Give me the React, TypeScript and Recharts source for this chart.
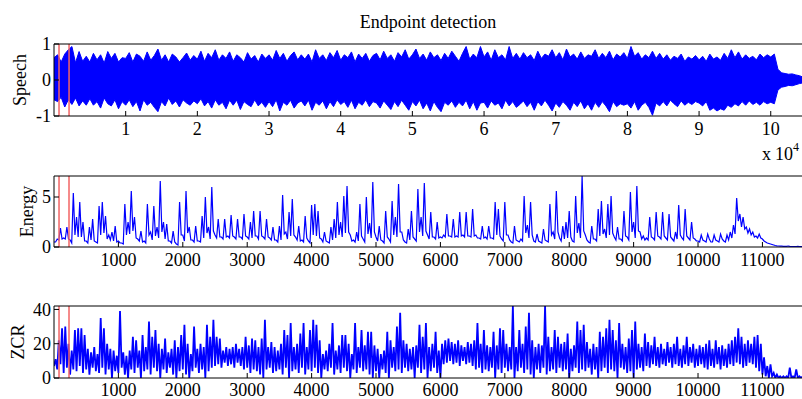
import React from "react";
import { ComposedChart, Area, Line, XAxis, YAxis, ReferenceLine } from "recharts";

const W = 812;
const H = 399;
const LEFT = 54;
const RIGHT = 803;
const BLUE = "#0000ff";
const RED = "#f26464";
const FONT = "'Liberation Serif', 'Times New Roman', serif";

// speech envelope, one pair every 500 samples
const SPEECH_STEP = 500;
const speechUpper = [
  0.62, 0.7, 0.5, 0.72, 0.84, 0.93, 0.48, 0.79, 0.52, 0.66,
  0.5, 0.74, 0.56, 0.7, 0.47, 0.79, 0.6, 0.74, 0.5, 0.62,
  0.6, 0.76, 0.5, 0.72, 0.66, 0.52, 0.78, 0.55, 0.68, 0.86,
  0.55, 0.7, 0.5, 0.72, 0.64, 0.5, 0.62, 0.75, 0.55, 0.68,
  0.58, 0.8, 0.52, 0.74, 0.62, 0.84, 0.55, 0.7, 0.6, 0.78,
  0.52, 0.7, 0.62, 0.5, 0.76, 0.58, 0.68, 0.5, 0.72, 0.6,
  0.7, 0.55, 0.82, 0.6, 0.74, 0.52, 0.68, 0.78, 0.56, 0.7,
  0.58, 0.72, 0.5, 0.84, 0.6, 0.7, 0.54, 0.76, 0.62, 0.82,
  0.55, 0.7, 0.62, 0.78, 0.5, 0.72, 0.6, 0.74, 0.52, 0.68,
  0.74, 0.56, 0.8, 0.6, 0.7, 0.52, 0.76, 0.64, 0.84, 0.58,
  0.7, 0.86, 0.6, 0.72, 0.55, 0.78, 0.62, 0.7, 0.54, 0.74,
  0.6, 0.8, 0.66, 0.52, 0.74, 0.93, 0.58, 0.72, 0.62, 0.93,
  0.64, 0.78, 0.55, 0.84, 0.62, 0.7, 0.56, 0.93, 0.6, 0.74,
  0.58, 0.76, 0.62, 0.7, 0.54, 0.8, 0.6, 0.72, 0.66, 0.84,
  0.62, 0.76, 0.56, 0.86, 0.64, 0.72, 0.58, 0.78, 0.6, 0.7,
  0.66, 0.84, 0.6, 0.74, 0.62, 0.8, 0.56, 0.72, 0.64, 0.76,
  0.6, 0.93, 0.66, 0.76, 0.58, 0.7, 0.62, 0.8, 0.6, 0.74,
  0.58, 0.7, 0.55, 0.66, 0.6, 0.72, 0.52, 0.64, 0.58, 0.68,
  0.56, 0.66, 0.52, 0.72, 0.58, 0.64, 0.55, 0.74, 0.6, 0.84,
  0.62, 0.78, 0.58, 0.7, 0.6, 0.66, 0.56, 0.72, 0.62, 0.7,
  0.64, 0.72, 0.3, 0.2, 0.18, 0.16, 0.17, 0.14, 0.12, 0.08,
];
const speechLower = [
  -0.55, -0.6, -0.48, -0.75, -0.55, -0.68, -0.5, -0.72, -0.58, -0.7,
  -0.52, -0.7, -0.6, -0.78, -0.5, -0.66, -0.72, -0.55, -0.8, -0.6,
  -0.7, -0.55, -0.74, -0.6, -0.86, -0.55, -0.7, -0.62, -0.76, -0.88,
  -0.6, -0.72, -0.5, -0.68, -0.58, -0.75, -0.55, -0.64, -0.7, -0.58,
  -0.66, -0.52, -0.72, -0.6, -0.78, -0.55, -0.7, -0.62, -0.8, -0.56,
  -0.7, -0.56, -0.82, -0.6, -0.68, -0.74, -0.55, -0.72, -0.62, -0.76,
  -0.6, -0.74, -0.55, -0.86, -0.62, -0.7, -0.56, -0.78, -0.64, -0.58,
  -0.72, -0.56, -0.84, -0.62, -0.7, -0.58, -0.8, -0.6, -0.74, -0.55,
  -0.68, -0.6, -0.76, -0.56, -0.8, -0.62, -0.7, -0.55, -0.74, -0.6,
  -0.64, -0.78, -0.58, -0.7, -0.82, -0.6, -0.74, -0.56, -0.7, -0.84,
  -0.6, -0.72, -0.56, -0.8, -0.64, -0.86, -0.6, -0.76, -0.88, -0.62,
  -0.7, -0.58, -0.76, -0.62, -0.72, -0.56, -0.8, -0.6, -0.84, -0.64,
  -0.62, -0.78, -0.58, -0.7, -0.64, -0.8, -0.56, -0.72, -0.6, -0.76,
  -0.68, -0.58, -0.74, -0.62, -0.84, -0.6, -0.72, -0.56, -0.7, -0.86,
  -0.64, -0.76, -0.6, -0.7, -0.84, -0.62, -0.74, -0.58, -0.8, -0.66,
  -0.84, -0.62, -0.76, -0.6, -0.72, -0.88, -0.6, -0.74, -0.66, -0.7,
  -0.66, -0.78, -0.6, -0.84, -0.7, -0.62, -0.76, -0.98, -0.64, -0.72,
  -0.6, -0.72, -0.56, -0.66, -0.74, -0.58, -0.7, -0.62, -0.68, -0.6,
  -0.64, -0.72, -0.6, -0.84, -0.78, -0.86, -0.8, -0.84, -0.7, -0.76,
  -0.66, -0.72, -0.6, -0.7, -0.58, -0.68, -0.62, -0.7, -0.6, -0.66,
  -0.62, -0.66, -0.28, -0.2, -0.18, -0.15, -0.16, -0.13, -0.1, -0.08,
];

// short-time energy: a value every 50 frames, plus the level half way between them
const FRAME_STEP = 50;
const energy = [
  0.5, 0.8, 1.9, 0.9, 2.0, 0.7, 5.4, 3.0, 4.5, 2.5,
  0.6, 2.0, 2.8, 0.5, 4.1, 4.5, 3.1, 1.2, 1.5, 2.1,
  0.6, 0.4, 4.3, 2.5, 5.6, 3.0, 0.8, 1.6, 0.6, 4.3,
  1.5, 4.1, 2.0, 6.6, 2.5, 2.3, 0.6, 1.6, 0.3, 4.5,
  1.2, 5.6, 2.0, 0.7, 2.1, 0.6, 3.1, 5.0, 2.0, 6.0,
  1.2, 2.8, 1.0, 2.8, 1.1, 3.2, 1.0, 2.8, 1.0, 3.3,
  1.0, 2.5, 3.6, 1.1, 3.6, 1.0, 2.8, 0.9, 2.0, 0.7,
  2.1, 5.2, 1.5, 3.5, 4.8, 1.0, 2.1, 0.7, 3.1, 0.6,
  4.2, 4.3, 3.6, 0.8, 1.5, 0.5, 2.0, 2.8, 4.5, 2.5,
  5.1, 6.1, 1.2, 0.7, 1.5, 4.3, 0.8, 5.0, 2.4, 6.5,
  1.0, 2.1, 0.6, 3.6, 0.8, 4.6, 3.0, 6.3, 1.5, 0.5,
  1.8, 3.6, 0.8, 5.8, 3.0, 6.4, 1.2, 3.5, 1.0, 2.5,
  1.0, 1.2, 3.3, 1.1, 2.8, 1.1, 3.5, 1.2, 3.5, 1.1,
  3.8, 1.2, 0.9, 2.1, 1.0, 2.1, 0.9, 4.5, 3.8, 0.8,
  4.5, 1.2, 0.5, 2.1, 0.6, 0.8, 5.1, 2.2, 4.5, 0.6,
  1.3, 0.5, 1.8, 0.6, 4.3, 1.5, 5.6, 0.9, 2.1, 2.5,
  3.6, 0.6, 5.1, 2.4, 7.1, 1.2, 0.5, 2.1, 0.8, 3.8,
  4.6, 1.8, 4.3, 5.1, 1.0, 2.0, 0.8, 3.6, 1.0, 5.5,
  2.5, 6.1, 1.5, 1.1, 0.9, 3.0, 0.9, 3.5, 1.0, 3.5,
  0.9, 3.3, 0.8, 1.5, 4.2, 0.9, 3.8, 0.9, 2.5, 0.8,
  0.6, 1.2, 0.6, 1.3, 0.5, 1.2, 0.6, 1.3, 0.6, 1.2,
  1.5, 2.2, 4.9, 3.3, 3.0, 2.0, 1.8, 1.5, 1.1, 1.3,
  0.8, 0.5, 0.35, 0.25, 0.15, 0.1, 0.08, 0.06, 0.1, 0.05,
  0.05, 0.06, 0.05,
];
const energyTroughs = [
  0.5, 0.7, 0.8, 0.8, 0.8, 0.4, 1.2, 1.0, 1.0, 0.6,
  0.4, 0.7, 0.6, 0.4, 1.2, 1.4, 0.8, 0.7, 0.6, 0.5,
  0.4, 0.3, 1.2, 1.3, 1.6, 0.9, 0.6, 0.5, 0.4, 1.2,
  0.7, 1.1, 0.9, 1.5, 0.8, 0.6, 0.4, 0.5, 0.2, 1.2,
  0.6, 1.4, 0.7, 0.5, 0.6, 0.5, 0.9, 1.4, 0.8, 1.6,
  0.9, 1.0, 0.8, 1.0, 0.9, 1.1, 0.8, 1.0, 0.8, 1.1,
  0.8, 0.9, 1.1, 0.8, 1.1, 0.8, 1.0, 0.7, 0.7, 0.5,
  0.7, 1.3, 0.8, 1.1, 1.2, 0.7, 0.6, 0.5, 0.9, 0.4,
  1.2, 1.1, 0.9, 0.5, 0.6, 0.4, 0.7, 0.9, 1.2, 1.0,
  1.4, 1.5, 0.6, 0.5, 0.6, 1.1, 0.5, 1.3, 0.9, 1.5,
  0.6, 0.7, 0.4, 1.0, 0.5, 1.2, 1.0, 1.5, 0.7, 0.4,
  0.7, 1.0, 0.6, 1.5, 1.1, 1.6, 0.8, 1.0, 0.8, 0.9,
  0.9, 1.0, 1.1, 1.0, 1.0, 1.0, 1.1, 1.0, 1.1, 1.0,
  1.1, 0.9, 0.8, 0.9, 0.8, 0.9, 0.8, 1.2, 1.1, 0.6,
  1.2, 0.7, 0.4, 0.7, 0.5, 0.6, 1.4, 0.9, 1.2, 0.5,
  0.6, 0.4, 0.7, 0.5, 1.2, 0.8, 1.5, 0.6, 0.8, 0.9,
  1.0, 0.5, 1.4, 0.9, 1.6, 0.7, 0.4, 0.8, 0.6, 1.1,
  1.3, 0.9, 1.2, 1.4, 0.7, 0.8, 0.6, 1.1, 0.7, 1.5,
  0.9, 1.6, 0.8, 0.7, 0.7, 1.0, 0.7, 1.1, 0.8, 1.1,
  0.7, 1.0, 0.6, 0.8, 1.2, 0.7, 1.1, 0.7, 0.9, 0.6,
  0.5, 0.7, 0.5, 0.8, 0.5, 0.7, 0.5, 0.8, 0.5, 0.7,
  0.9, 1.3, 2.6, 2.0, 1.8, 1.4, 1.2, 1.0, 0.9, 0.9,
  0.6, 0.4, 0.3, 0.2, 0.12, 0.09, 0.07, 0.07, 0.06, 0.05,
  0.05, 0.05, 0.05,
];

// zero crossing rate: low and high reading in every 50-frame slot
const zcrHigh = [
  11, 22, 29, 30, 20, 16, 28, 29, 29, 25,
  17, 15, 18, 14, 35, 29, 20, 17, 16, 13,
  39, 15, 13, 16, 24, 22, 16, 25, 18, 33,
  24, 28, 20, 17, 23, 15, 17, 22, 18, 25,
  31, 20, 14, 30, 17, 20, 18, 31, 24, 34,
  24, 23, 16, 18, 17, 18, 20, 17, 18, 24,
  19, 23, 22, 18, 23, 34, 18, 21, 18, 16,
  20, 28, 25, 32, 18, 20, 26, 32, 18, 28,
  34, 31, 22, 14, 16, 20, 32, 16, 19, 25,
  25, 20, 14, 32, 18, 28, 19, 27, 27, 19,
  17, 14, 16, 27, 22, 18, 30, 38, 22, 20,
  17, 18, 19, 31, 24, 32, 18, 20, 27, 16,
  20, 22, 23, 21, 20, 22, 19, 18, 21, 20,
  22, 32, 20, 28, 19, 18, 27, 19, 29, 28,
  20, 18, 42, 18, 28, 20, 30, 38, 22, 18,
  20, 19, 42, 24, 18, 28, 24, 20, 21, 26,
  17, 19, 33, 28, 31, 21, 17, 20, 18, 27,
  24, 29, 34, 28, 22, 32, 20, 18, 23, 28,
  33, 20, 18, 26, 21, 19, 24, 18, 20, 17,
  21, 18, 20, 24, 17, 19, 24, 18, 20, 17,
  19, 18, 20, 22, 17, 22, 18, 19, 17, 20,
  22, 24, 29, 24, 20, 22, 20, 24, 25, 20,
  12, 7, 8, 3, 2, 1, 1, 1, 6, 1,
  5, 1, 1,
];
const zcrLow = [
  7, 5, 8, 3, 6, 2, 5, 4, 7, 3,
  5, 2, 6, 4, 3, 6, 2, 5, 0, 4,
  3, 6, 2, 0, 5, 3, 6, 0, 4, 5,
  2, 6, 4, 0, 5, 3, 6, 2, 0, 4,
  5, 2, 0, 4, 6, 3, 5, 0, 4, 6,
  7, 8, 6, 9, 7, 8, 6, 9, 7, 5,
  6, 3, 5, 4, 2, 0, 5, 6, 3, 4,
  5, 2, 6, 0, 4, 5, 3, 6, 2, 5,
  4, 6, 3, 0, 5, 4, 6, 2, 5, 3,
  6, 4, 0, 5, 3, 6, 4, 5, 2, 0,
  4, 0, 5, 3, 0, 6, 4, 5, 3, 6,
  4, 5, 0, 6, 3, 5, 0, 4, 6, 3,
  0, 8, 9, 10, 8, 9, 7, 10, 8, 9,
  7, 5, 6, 3, 5, 4, 6, 0, 5, 3,
  6, 4, 5, 0, 4, 6, 3, 5, 2, 0,
  5, 3, 6, 2, 4, 5, 3, 6, 4, 5,
  0, 4, 6, 3, 5, 4, 6, 2, 5, 0,
  4, 6, 3, 5, 4, 0, 6, 5, 3, 4,
  0, 5, 6, 4, 7, 6, 8, 7, 6, 8,
  7, 9, 6, 8, 7, 6, 8, 7, 9, 6,
  7, 8, 6, 5, 7, 6, 8, 5, 7, 6,
  8, 7, 9, 8, 6, 7, 9, 8, 6, 4,
  2, 1, 0, 1, 0, 0, 0, 0, 0, 0,
  0, 0, 0,
];

const speechTicks = [10000, 20000, 30000, 40000, 50000, 60000, 70000, 80000, 90000, 100000];
const frameTicks = [1000, 2000, 3000, 4000, 5000, 6000, 7000, 8000, 9000, 10000, 11000];
const speechEndpoints = [700, 2100];
const frameEndpoints = [78, 233];

const speechData = speechUpper.map((u, i) => ({ x: i * SPEECH_STEP, band: [speechLower[i], u] }));
const energyData = energy.flatMap((v, i) => [
  { x: i * FRAME_STEP, v },
  { x: i * FRAME_STEP + FRAME_STEP / 2, v: energyTroughs[i] },
]);
const zcrData = zcrHigh.flatMap((h, i) => [
  { x: i * FRAME_STEP, v: zcrLow[i] },
  { x: i * FRAME_STEP + FRAME_STEP / 2, v: h },
]);

const axisLine = { stroke: "#000", strokeWidth: 1 };
const tickLine = { stroke: "#000", strokeWidth: 1 };
const tickText = { fontSize: 18, fill: "#000", fontFamily: FONT };

type PanelProps = {
  data: any[];
  top: number;
  bottom: number;
  xMax: number;
  xTicks: number[];
  xFormat?: (v: number) => string;
  xLabelGap?: number;
  yDomain: [number, number];
  yTicks: number[];
  markers: number[];
  children: React.ReactNode;
};

function Panel({ data, top, bottom, xMax, xTicks, xFormat, xLabelGap = 11, yDomain, yTicks, markers, children }: PanelProps) {
  return (
    <div style={{ position: "absolute", left: 0, top: 0 }}>
      <ComposedChart
        width={W}
        height={H}
        data={data}
        margin={{ top: top - 1, bottom: H - bottom - 1, left: LEFT - 1, right: W - RIGHT - 1 }}
      >
        <XAxis
          dataKey="x"
          type="number"
          domain={[0, xMax]}
          ticks={xTicks}
          interval={0}
          allowDataOverflow
          height={1}
          tickSize={-5}
          tickMargin={xLabelGap}
          axisLine={axisLine}
          tickLine={tickLine}
          tick={tickText}
          tickFormatter={xFormat}
        />
        <XAxis
          xAxisId="top"
          orientation="top"
          dataKey="x"
          type="number"
          domain={[0, xMax]}
          ticks={xTicks}
          interval={0}
          allowDataOverflow
          height={1}
          tickSize={-5}
          axisLine={axisLine}
          tickLine={tickLine}
          tick={false}
        />
        <YAxis
          type="number"
          domain={yDomain}
          ticks={yTicks}
          interval={0}
          allowDataOverflow
          width={1}
          tickSize={-5}
          tickMargin={8}
          axisLine={axisLine}
          tickLine={tickLine}
          tick={tickText}
        />
        <YAxis
          yAxisId="r"
          orientation="right"
          type="number"
          domain={yDomain}
          ticks={yTicks}
          interval={0}
          allowDataOverflow
          width={1}
          tickSize={-5}
          axisLine={axisLine}
          tickLine={tickLine}
          tick={false}
        />
        {children}
        <Line
          xAxisId="top"
          yAxisId="r"
          dataKey="x"
          stroke="none"
          dot={false}
          activeDot={false}
          isAnimationActive={false}
        />
        {markers.map((m) => (
          <ReferenceLine key={m} x={m} stroke={RED} strokeWidth={1.5} />
        ))}
      </ComposedChart>
    </div>
  );
}

export default function App() {
  return (
    <div
      style={{
        position: "fixed",
        left: 0,
        top: 0,
        width: 802,
        height: 399,
        overflow: "hidden",
        background: "#fff",
        fontFamily: FONT,
      }}
    >
      <Panel
        data={speechData}
        top={44}
        bottom={116}
        xMax={104500}
        xTicks={speechTicks}
        xFormat={(v) => String(v / 10000)}
        yDomain={[-1, 1]}
        yTicks={[-1, 0, 1]}
        markers={speechEndpoints}
      >
        <Area
          dataKey="band"
          stroke={BLUE}
          strokeWidth={1}
          fill={BLUE}
          fillOpacity={1}
          dot={false}
          activeDot={false}
          isAnimationActive={false}
        />
      </Panel>
      <Panel
        data={energyData}
        top={176}
        bottom={247}
        xMax={11630}
        xTicks={frameTicks}
        yDomain={[0, 7.1]}
        yTicks={[0, 5]}
        markers={frameEndpoints}
      >
        <Line
          dataKey="v"
          stroke={BLUE}
          strokeWidth={1.2}
          dot={false}
          activeDot={false}
          isAnimationActive={false}
        />
      </Panel>
      <Panel
        data={zcrData}
        top={306}
        bottom={378}
        xMax={11630}
        xTicks={frameTicks}
        xLabelGap={10}
        yDomain={[0, 42]}
        yTicks={[0, 20, 40]}
        markers={frameEndpoints}
      >
        <Line
          dataKey="v"
          stroke={BLUE}
          strokeWidth={1.8}
          dot={false}
          activeDot={false}
          isAnimationActive={false}
        />
      </Panel>
      <svg
        width={802}
        height={399}
        style={{ position: "absolute", left: 0, top: 0, pointerEvents: "none" }}
        fontFamily={FONT}
        fill="#000"
      >
        <text x={428} y={28} textAnchor="middle" fontSize={18}>
          Endpoint detection
        </text>
        <text x={26} y={80} textAnchor="middle" fontSize={18} transform="rotate(-90 26 80)">
          Speech
        </text>
        <text x={33} y={211.5} textAnchor="middle" fontSize={18} transform="rotate(-90 33 211.5)">
          Energy
        </text>
        <text x={24} y={342} textAnchor="middle" fontSize={18} transform="rotate(-90 24 342)">
          ZCR
        </text>
        <text x={762} y={160} fontSize={18}>x</text>
        <text x={775} y={160} fontSize={18}>10</text>
        <text x={793} y={151} fontSize={12}>4</text>
      </svg>
    </div>
  );
}
